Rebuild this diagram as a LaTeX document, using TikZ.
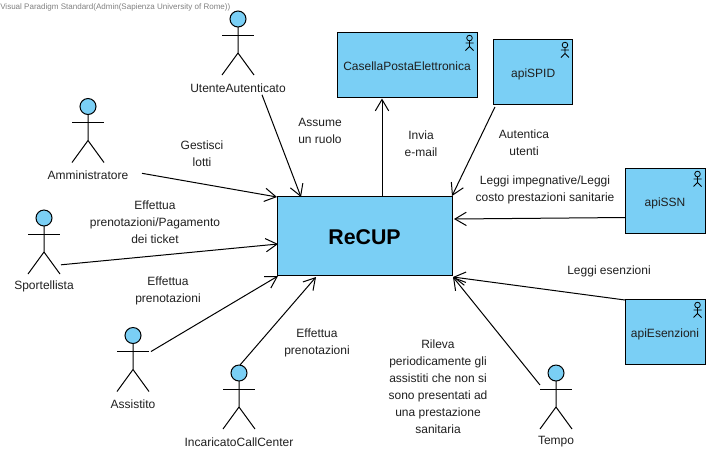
\documentclass[tikz,border=0pt]{standalone}
\usepackage{fontspec}
\setmainfont{Liberation Sans}
\usetikzlibrary{arrows.meta,calc}
\definecolor{vpblue}{RGB}{122,207,245}
\tikzset{
  px/.style={x=0.75pt,y=-0.75pt},
  stroke/.style={line width=0.75pt,black},
  txt/.style={align=center,inner sep=0pt,yshift=-0.6pt,text=black!88,font=\fontsize{9}{12.75}\selectfont},
  boxnode/.style={draw,stroke,fill=vpblue,inner sep=0pt,outer sep=0pt,text height=8.2pt,text depth=0pt,text=black!88,font=\fontsize{9}{12.75}\selectfont},
  headnode/.style={draw,stroke,fill=vpblue,circle,minimum size=12pt,inner sep=0pt,outer sep=0pt},
  assoc/.style={stroke,-{Straight Barb[length=8.5pt,width=10pt,line width=0.75pt]},shorten >=0pt},
}
% name, x, y of head centre, label
\newcommand{\actorfig}[4]{%
  \node[headnode] (#1) at (#2,#3) {};
  \draw[stroke] (#1.south) -- ++(0,26) coordinate (#1-hip)
     -- ++(-16,22) (#1-hip) -- ++(16,22);
  \draw[stroke] ($(#1.south)+(-16,8)$) -- ($(#1.south)+(16,8)$);
  \node[txt] (#1-label) at (#2,#3+68) {#4};
}
% small actor icon at the top right corner of a box
\newcommand{\cornericon}[1]{%
  \draw[stroke,line width=0.6pt] ($(#1.north east)+(-7.5,5.5)$) circle[radius=2.1pt]
    ($(#1.north east)+(-7.5,8.3)$) -- ($(#1.north east)+(-7.5,14)$)
    ($(#1.north east)+(-11.5,10.5)$) -- ($(#1.north east)+(-3.5,10.5)$)
    ($(#1.north east)+(-11.5,18)$) -- ($(#1.north east)+(-7.5,14)$) -- ($(#1.north east)+(-3.5,18)$);
}
\begin{document}
\begin{tikzpicture}[px]
\useasboundingbox (0,0) rectangle (709,451);
\node[anchor=west,inner sep=0pt,text=black!50,font=\fontsize{6.02}{8}\selectfont] (wm) at (0,7.5) {Visual Paradigm Standard(Admin(Sapienza University of Rome))};

\node[boxnode,minimum width=131.25pt,minimum height=59.25pt,text height=13.6pt,font=\fontsize{16}{18}\selectfont\bfseries,text=black] (recup) at (364.5,235.5) {ReCUP};
\node[boxnode,minimum width=105pt,minimum height=48.4pt] (casella) at (407,64.8) {CasellaPostaElettronica};
\node[boxnode,minimum width=58.9pt,minimum height=48.75pt] (spid) at (533.2,72) {apiSPID};
\node[boxnode,minimum width=60pt,minimum height=48.75pt] (ssn) at (665,201) {apiSSN};
\node[boxnode,minimum width=60pt,minimum height=48.75pt] (esenzioni) at (665,332) {apiEsenzioni};
\cornericon{casella}
\cornericon{spid}
\cornericon{ssn}
\cornericon{esenzioni}

\actorfig{utente}{238}{19}{UtenteAutenticato}
\actorfig{admin}{88}{106.5}{Amministratore}
\actorfig{sport}{44}{218}{Sportellista}
\actorfig{assist}{133}{335.5}{Assistito}
\actorfig{callc}{239}{373}{IncaricatoCallCenter}
\actorfig{tempo}{556}{373}{Tempo}

\draw[assoc] ($(utente-label)+(24,7)$) -- ($(recup.north west)+(24,1)$);
\draw[assoc] ($(admin-label)+(54,-2)$) -- ($(recup.north west)+(0,1)$);
\draw[assoc] ($(sport-label)+(17,-22)$) -- ($(recup.west)+(1,8.5)$);
\draw[assoc] ($(assist)+(18,16)$) -- ($(recup.south west)+(1,1)$);
\draw[assoc] ($(callc)+(1,-8)$) -- ($(recup.south west)+(39,2)$);
\draw[assoc] (recup.north -| 382,0) -- (382,98.5);
\draw[assoc] ($(spid.south west)+(1,2.5)$) -- (recup.north east);
\draw[assoc] (ssn.west |- 0,217.5) -- ($(recup.east)+(2,-16.5)$);
\draw[assoc] ($(esenzioni.north west)+(0,0.5)$) -- ($(recup.south east)+(1,2)$);
\draw[assoc] ($(tempo)+(-16,12)$) -- ($(recup.south east)+(1,2)$);

\node[txt] (t1) at (202,153) {Gestisci\\lotti};
\node[txt] (t2) at (320,130) {Assume\\un ruolo};
\node[txt] (t3) at (421,142.5) {Invia\\e-mail};
\node[txt] (t4) at (524,141.5) {Autentica\\utenti};
\node[txt] (t5) at (545,189.5) {Leggi impegnative/Leggi\\costo prestazioni sanitarie};
\node[txt] (t6) at (155,221.5) {Effettua\\prenotazioni/Pagamento\\dei ticket};
\node[txt] (t7) at (168,290.5) {Effettua\\prenotazioni};
\node[txt] (t8) at (317,342) {Effettua\\prenotazioni};
\node[txt] (t9) at (609,271) {Leggi esenzioni};
\node[txt] (t10) at (438,385.5) {Rileva\\periodicamente gli\\assistiti che non si\\sono presentati ad\\una prestazione\\sanitaria};
\end{tikzpicture}
\end{document}
